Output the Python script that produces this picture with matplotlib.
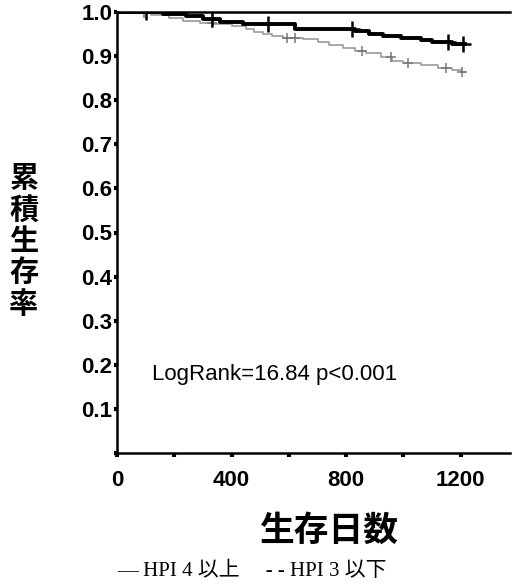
import numpy as np
import matplotlib
matplotlib.use('Agg')
import matplotlib.pyplot as plt
from matplotlib import rcParams
rcParams['font.family'] = ['Liberation Sans', 'Noto Sans CJK JP']

# step data (days, cumulative survival)
t_hi = [0, 160, 240, 300, 360, 440, 620, 830, 880, 930, 990, 1060, 1100, 1170, 1215]
s_hi = [1.0, 0.995, 0.990, 0.984, 0.977, 0.972, 0.962, 0.956, 0.951, 0.946, 0.941, 0.936, 0.931, 0.927, 0.927]
cens_hi_t = [100, 332, 527, 820, 1155, 1207]

t_lo = [0, 60, 120, 180, 230, 290, 340, 400, 450, 480, 510, 540, 580, 650, 700, 740,
        790, 830, 870, 920, 960, 1000, 1060, 1120, 1170, 1200, 1215]
s_lo = [1.0, 0.997, 0.993, 0.986, 0.980, 0.975, 0.972, 0.968, 0.962, 0.955, 0.950, 0.946,
        0.942, 0.938, 0.932, 0.926, 0.918, 0.912, 0.906, 0.897, 0.890, 0.884, 0.880, 0.874,
        0.869, 0.865, 0.865]
cens_lo_t = [95, 330, 593, 620, 855, 958, 1015, 1150, 1205]

yticks = np.round(np.arange(0, 1.01, 0.1), 1)
ylabels = [''] + ['%.1f' % v for v in yticks[1:]]
xticks = [0, 200, 400, 600, 800, 1000, 1200]
xlabels = ['0', '', '400', '', '800', '', '1200']


def surv_at(t, s, x):
    i = np.searchsorted(t, x, side='right') - 1
    return np.array(s)[i]


fig = plt.figure(figsize=(5.16, 5.86), dpi=100)
ax = fig.add_axes([117/516, 1-453/586, 393/516, 441/586])

ax.step(t_lo, s_lo, where='post', color='#9a9a9a', lw=1.2)
ax.plot(cens_lo_t, surv_at(t_lo, s_lo, cens_lo_t), '+', color='#777777', ms=7, mew=1.1)
ax.step(t_hi, s_hi, where='post', color='black', lw=2.8)
ax.plot(cens_hi_t, surv_at(t_hi, s_hi, cens_hi_t), '+', color='black', ms=11, mew=1.8)

ax.set_xlim(0, 1372)
ax.set_ylim(0, 1.0)
ax.spines['right'].set_visible(False)
for sp in ['left', 'bottom', 'top']:
    ax.spines[sp].set_linewidth(1.8)

ax.set_yticks(yticks)
ax.set_yticklabels(ylabels, fontsize=16, fontweight='bold')
ax.set_xticks(xticks)
ax.set_xticklabels(xlabels, fontsize=16, fontweight='bold')
ax.tick_params(axis='y', direction='out', length=2.5, width=3, pad=1)
ax.tick_params(axis='x', direction='out', length=3, width=3, pad=9)

ax.text(123, 0.177, 'LogRank=16.84 p<0.001', fontsize=16, ha='left', va='center')

# vertical y label, one character per line
for i, ch in enumerate('累積生存率'):
    fig.text(24/516, 1-(178.5+31.3*i)/586, ch, fontsize=21, fontweight='bold',
             ha='center', va='center', family=['Noto Sans CJK JP'])

fig.text(329/516, 1-530/586, '生存日数', fontsize=25, fontweight='bold',
         ha='center', va='center', family=['Noto Sans CJK JP'])

fig.text(117/516, 1-571/586, '— HPI 4 以上　 - - HPI 3 以下', fontsize=15,
         ha='left', va='center', family=['Liberation Serif', 'Noto Sans CJK JP'])

fig.savefig('out.png', dpi=100)
